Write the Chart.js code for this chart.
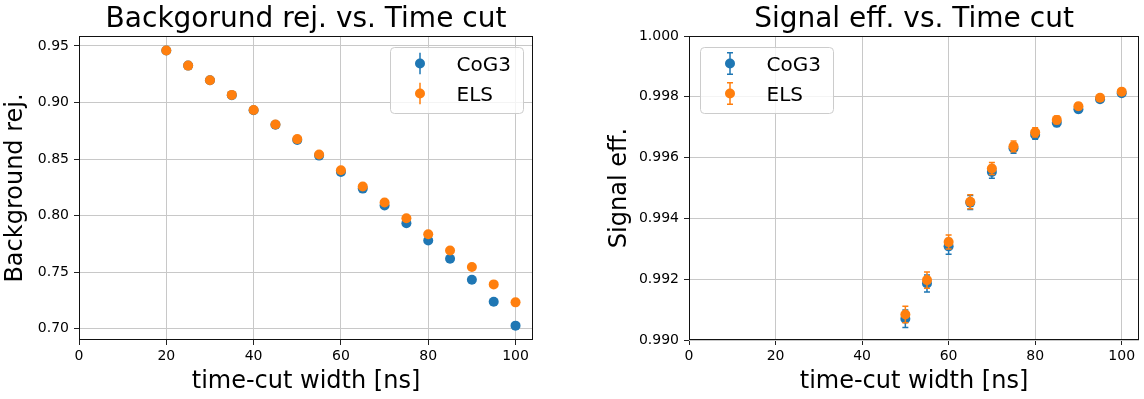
<!DOCTYPE html>
<html>
<head>
<meta charset="utf-8">
<script src="https://cdn.jsdelivr.net/npm/chart.js@4/dist/chart.umd.min.js"></script>
<style>
  html, body { margin: 0; padding: 0; background: #ffffff; }
  #wrap { position: relative; width: 1144px; height: 399px; overflow: hidden; }
  canvas { position: absolute; top: 0; }
</style>
</head>
<body>
<div id="wrap">
  <canvas id="leftChart" width="572" height="399" style="left:0px"></canvas>
  <canvas id="rightChart" width="572" height="399" style="left:572px"></canvas>
</div>
<script>
// ---------- DATA ----------
const seriesNames = ['CoG3', 'ELS'];

const bgTimeCut = [20, 25, 30, 35, 40, 45, 50, 55, 60, 65, 70, 75, 80, 85, 90, 95, 100];
const bgCoG3    = [0.946, 0.9326, 0.9197, 0.9065, 0.8932, 0.8803, 0.8668, 0.8530, 0.8385, 0.8238, 0.8088, 0.7932, 0.7779, 0.7618, 0.7432, 0.7238, 0.7026];
const bgELS     = [0.946, 0.9326, 0.9197, 0.9067, 0.8933, 0.8805, 0.8676, 0.8540, 0.8400, 0.8256, 0.8115, 0.7976, 0.7835, 0.7691, 0.7544, 0.7391, 0.7232];
const bgCoG3Err = [0.0006, 0.0006, 0.0006, 0.0006, 0.0006, 0.0006, 0.0006, 0.0006, 0.0006, 0.0006, 0.0006, 0.0006, 0.0006, 0.0006, 0.0006, 0.0006, 0.0006];
const bgELSErr  = [0.0006, 0.0006, 0.0006, 0.0006, 0.0006, 0.0006, 0.0006, 0.0006, 0.0006, 0.0006, 0.0006, 0.0006, 0.0006, 0.0006, 0.0006, 0.0006, 0.0006];

const sigTimeCut  = [50, 55, 60, 65, 70, 75, 80, 85, 90, 95, 100];
const sigCoG3     = [0.99070, 0.99186, 0.99308, 0.99452, 0.99553, 0.99631, 0.99675, 0.99715, 0.99759, 0.99792, 0.99812];
const sigELS      = [0.99084, 0.99197, 0.99322, 0.99455, 0.99564, 0.99637, 0.99683, 0.99724, 0.99769, 0.99797, 0.99817];
const sigCoG3Err  = [0.00029, 0.00028, 0.00026, 0.00023, 0.00021, 0.00017, 0.00015, 0.00013, 0.00011, 0.00010, 0.00009];
const sigELSErr   = [0.00027, 0.00027, 0.00023, 0.00023, 0.00020, 0.00018, 0.00015, 0.00013, 0.00011, 0.00010, 0.00009];

const xTicks      = [0, 20, 40, 60, 80, 100];
const bgYTicks    = [0.70, 0.75, 0.80, 0.85, 0.90, 0.95];
const sigYTicks   = [0.990, 0.992, 0.994, 0.996, 0.998, 1.000];

const leftTitle   = 'Backgorund rej. vs. Time cut';
const rightTitle  = 'Signal eff. vs. Time cut';
const xLabel      = 'time-cut width [ns]';
const leftYLabel  = 'Background rej.';
const rightYLabel = 'Signal eff.';

// ---------- STYLE ----------
const C_BLUE = '#1f77b4';
const C_ORANGE = '#ff7f0e';
const FONT = '"DejaVu Sans", "Liberation Sans", sans-serif';

function pts(xs, ys) { return xs.map((x, i) => ({ x: x, y: ys[i] })); }

const errorBarPlugin = {
  id: 'errorBars',
  beforeDatasetDraw(chart, args, opts) {
    const ds = chart.data.datasets[args.index];
    if (!ds.errors) return;
    const xs = chart.scales.x, ys = chart.scales.y;
    const ctx = chart.ctx;
    const cap = opts.cap || 0;
    ctx.save();
    ctx.strokeStyle = ds.backgroundColor;
    ctx.lineWidth = 1.5;
    ds.data.forEach((p, i) => {
      const e = ds.errors[i];
      const px = xs.getPixelForValue(p.x);
      const y1 = ys.getPixelForValue(p.y - e);
      const y2 = ys.getPixelForValue(p.y + e);
      ctx.beginPath();
      ctx.moveTo(px, y1); ctx.lineTo(px, y2);
      if (cap > 0) {
        ctx.moveTo(px - cap, y1); ctx.lineTo(px + cap, y1);
        ctx.moveTo(px - cap, y2); ctx.lineTo(px + cap, y2);
      }
      ctx.stroke();
    });
    ctx.restore();
  }
};

function roundRectPath(ctx, x, y, w, h, r) {
  ctx.beginPath();
  ctx.moveTo(x + r, y);
  ctx.lineTo(x + w - r, y);
  ctx.arcTo(x + w, y, x + w, y + r, r);
  ctx.lineTo(x + w, y + h - r);
  ctx.arcTo(x + w, y + h, x + w - r, y + h, r);
  ctx.lineTo(x + r, y + h);
  ctx.arcTo(x, y + h, x, y + h - r, r);
  ctx.lineTo(x, y + r);
  ctx.arcTo(x, y, x + r, y, r);
  ctx.closePath();
}

const decorPlugin = {
  id: 'decor',
  afterDraw(chart, args, opts) {
    const ctx = chart.ctx;
    const a = chart.chartArea;
    ctx.save();
    // frame (spines)
    const l = Math.floor(a.left) + 0.5, r = Math.floor(a.right) - 0.5;
    const t = Math.floor(a.top) + 0.5, b = Math.floor(a.bottom) - 0.5;
    ctx.strokeStyle = '#111';
    ctx.lineWidth = 1;
    ctx.strokeRect(l, t, r - l, b - t);

    // title
    ctx.fillStyle = '#000';
    ctx.font = '28px ' + FONT;
    ctx.textAlign = 'center';
    ctx.textBaseline = 'alphabetic';
    ctx.fillText(opts.title, (a.left + a.right) / 2, 27);

    // legend
    const bw = 133, bh = 66;
    const bx = opts.legendSide === 'right' ? a.right - 10 - bw : a.left + 11;
    const by = a.top + 11;
    roundRectPath(ctx, bx + 0.5, by + 0.5, bw, bh, 4);
    ctx.fillStyle = 'rgba(255,255,255,0.8)';
    ctx.fill();
    ctx.strokeStyle = '#cccccc';
    ctx.lineWidth = 1;
    ctx.stroke();

    const items = [
      { name: seriesNames[0], color: C_BLUE },
      { name: seriesNames[1], color: C_ORANGE }
    ];
    items.forEach((it, i) => {
      const cy = by + 16.5 + i * 30;
      const cx = bx + 30;
      ctx.strokeStyle = it.color;
      ctx.lineWidth = 1.5;
      ctx.beginPath();
      ctx.moveTo(cx, cy - 10.7); ctx.lineTo(cx, cy + 10.7);
      if (opts.cap > 0) {
        ctx.moveTo(cx - opts.cap, cy - 10.7); ctx.lineTo(cx + opts.cap, cy - 10.7);
        ctx.moveTo(cx - opts.cap, cy + 10.7); ctx.lineTo(cx + opts.cap, cy + 10.7);
      }
      ctx.stroke();
      ctx.fillStyle = it.color;
      ctx.beginPath();
      ctx.arc(cx, cy, 5, 0, Math.PI * 2);
      ctx.fill();
      ctx.fillStyle = '#000';
      ctx.font = '20px ' + FONT;
      ctx.textAlign = 'left';
      ctx.textBaseline = 'alphabetic';
      ctx.fillText(it.name, bx + 66.5, cy + 7.3);
    });
    ctx.restore();
  }
};

function makeChart(canvasId, cfg) {
  const datasets = [
    {
      label: seriesNames[0],
      data: pts(cfg.x, cfg.a),
      errors: cfg.aErr,
      backgroundColor: C_BLUE,
      borderColor: C_BLUE,
      pointRadius: 5,
      pointHoverRadius: 5,
      pointBorderWidth: 0,
      showLine: false,
      order: 1
    },
    {
      label: seriesNames[1],
      data: pts(cfg.x, cfg.b),
      errors: cfg.bErr,
      backgroundColor: C_ORANGE,
      borderColor: C_ORANGE,
      pointRadius: 5,
      pointHoverRadius: 5,
      pointBorderWidth: 0,
      showLine: false,
      order: 0
    }
  ];
  return new Chart(document.getElementById(canvasId), {
    type: 'scatter',
    data: { datasets: datasets },
    plugins: [errorBarPlugin, decorPlugin],
    options: {
      responsive: false,
      animation: false,
      events: [],
      layout: { padding: { left: 0, top: 36, right: cfg.padRight, bottom: 0 } },
      plugins: {
        legend: { display: false },
        tooltip: { enabled: false },
        title: { display: false },
        errorBars: { cap: cfg.cap },
        decor: { title: cfg.title, legendSide: cfg.legendSide, cap: cfg.cap }
      },
      scales: {
        x: {
          type: 'linear',
          min: 0,
          max: 104,
          afterBuildTicks: (s) => { s.ticks = xTicks.map(v => ({ value: v })); },
          afterFit: (s) => { s.height = 59; },
          grid: { color: '#c8c8c8', lineWidth: 1, drawTicks: true, tickLength: 5, tickColor: '#222', tickWidth: 1 },
          border: { display: false },
          ticks: {
            color: '#000', padding: 3, maxRotation: 0, autoSkip: false,
            font: { family: FONT, size: 14 },
            callback: (v) => String(v)
          },
          title: {
            display: true, text: xLabel, color: '#000',
            font: { family: FONT, size: 24, lineHeight: 1.2 },
            padding: { top: 0, bottom: 3 }
          }
        },
        y: {
          type: 'linear',
          min: cfg.yMin,
          max: cfg.yMax,
          afterBuildTicks: (s) => { s.ticks = cfg.yTicks.map(v => ({ value: v })); },
          afterFit: (s) => { s.width = cfg.yWidth; },
          grid: { color: '#c8c8c8', lineWidth: 1, drawTicks: true, tickLength: 5, tickColor: '#222', tickWidth: 1 },
          border: { display: false },
          ticks: {
            color: '#000', padding: 5, autoSkip: false,
            font: { family: FONT, size: 14 },
            callback: (v) => v.toFixed(cfg.decimals)
          },
          title: {
            display: true, text: cfg.yLabel, color: '#000',
            font: { family: FONT, size: 24, lineHeight: 1.0 },
            padding: { top: cfg.yTitlePad, bottom: 0 }
          }
        }
      }
    }
  });
}

makeChart('leftChart', {
  x: bgTimeCut, a: bgCoG3, b: bgELS, aErr: bgCoG3Err, bErr: bgELSErr,
  yMin: 0.6899, yMax: 0.9588, yTicks: bgYTicks, decimals: 2,
  yWidth: 79, padRight: 39, yTitlePad: 3.5, cap: 0,
  title: leftTitle, yLabel: leftYLabel, legendSide: 'right'
});

makeChart('rightChart', {
  x: sigTimeCut, a: sigCoG3, b: sigELS, aErr: sigCoG3Err, bErr: sigELSErr,
  yMin: 0.990, yMax: 1.000, yTicks: sigYTicks, decimals: 3,
  yWidth: 117, padRight: 1, yTitlePad: 35.5, cap: 3,
  title: rightTitle, yLabel: rightYLabel, legendSide: 'left'
});
</script>
</body>
</html>
